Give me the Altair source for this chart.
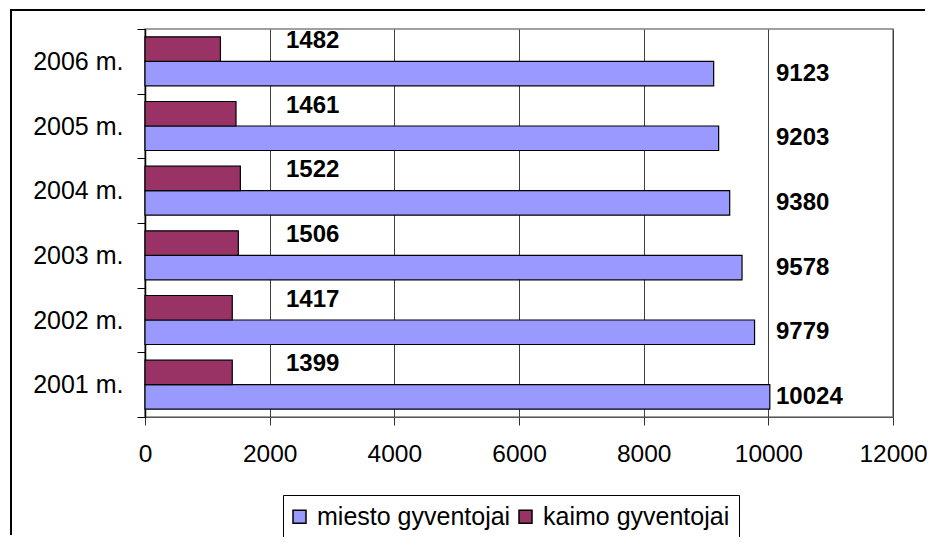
import altair as alt
import pandas as pd

years = ["2001 m.", "2002 m.", "2003 m.", "2004 m.", "2005 m.", "2006 m."]
miesto_values = [10024, 9779, 9578, 9380, 9203, 9123]
miesto_labels = ["10024", "9779", "9578", "9380", "9203", "9123"]
kaimo_values = [1400, 1400, 1497, 1530, 1460, 1210]
kaimo_labels = ["1399", "1417", "1506", "1522", "1461", "1482"]
series = ["miesto gyventojai", "kaimo gyventojai"]
series_colors = ["#9999FF", "#993366"]
x_ticks = [0, 2000, 4000, 6000, 8000, 10000, 12000]

rows = []
for i, y in enumerate(years):
    rows.append({"year": y, "series": series[0], "value": miesto_values[i], "label": miesto_labels[i]})
    rows.append({"year": y, "series": series[1], "value": kaimo_values[i], "label": kaimo_labels[i]})
df = pd.DataFrame(rows)

FONT = "Liberation Sans"

y_enc = alt.Y(
    "year:N",
    sort=years[::-1],
    scale=alt.Scale(paddingInner=0, paddingOuter=0),
    axis=alt.Axis(
        title=None, tickBand="extent", tickSize=8, tickColor="black",
        domainColor="black", domainWidth=1.5, labelFont=FONT, labelFontSize=25,
        labelColor="black", labelPadding=14, grid=False,
    ),
)
yoff_enc = alt.YOffset(
    "series:N",
    sort=[series[1], series[0]],
    scale=alt.Scale(paddingInner=0, paddingOuter=0.32),
)
x_enc = alt.X(
    "value:Q",
    scale=alt.Scale(domain=[0, 12000], nice=False),
    axis=alt.Axis(
        title=None, values=x_ticks, format="d", tickSize=8, tickColor="#333333",
        domainColor="#555555", labelFont=FONT, labelFontSize=24.5, labelColor="black",
        labelPadding=17, labelFlush=False, labelOverlap=False,
        grid=True, gridColor="#404040", gridWidth=1,
    ),
)

base = alt.Chart(df)

bars = base.mark_bar(stroke="black", strokeWidth=1.2).encode(
    x=x_enc,
    y=y_enc,
    yOffset=yoff_enc,
    color=alt.Color(
        "series:N",
        scale=alt.Scale(domain=series, range=series_colors),
        legend=alt.Legend(
            title=None, orient="none", legendX=138, legendY=466, direction="horizontal",
            strokeColor="black", padding=9, symbolType="square", symbolSize=169,
            symbolStrokeColor="black", symbolStrokeWidth=1.5, symbolOffset=-5,
            labelFont=FONT, labelFontSize=25, labelColor="black", labelOffset=5,
            columnPadding=5, fillColor="white", labelLimit=400,
        ),
    ),
)

miesto_text = base.transform_filter(alt.datum.series == series[0]).mark_text(
    align="left", baseline="middle", font=FONT, fontSize=24, fontWeight="bold", color="black"
).encode(
    x=alt.value(631),
    y=alt.Y("year:N", sort=years[::-1]),
    yOffset=alt.YOffset("series:N", sort=[series[1], series[0]]),
    text="label:N",
)

kaimo_text = base.transform_filter(alt.datum.series == series[1]).mark_text(
    align="left", baseline="middle", font=FONT, fontSize=24, fontWeight="bold", color="black", dy=-8
).encode(
    x=alt.value(141),
    y=alt.Y("year:N", sort=years[::-1]),
    yOffset=alt.YOffset("series:N", sort=[series[1], series[0]]),
    text="label:N",
)

one = alt.Data(values=[{"f": 1}])
frame_left = alt.Chart(one).mark_rule(color="black", strokeWidth=2).encode(
    x=alt.value(-134), y=alt.value(-20), y2=alt.value(506)
)
frame_top = alt.Chart(one).mark_rule(color="black", strokeWidth=2).encode(
    x=alt.value(-135), x2=alt.value(780), y=alt.value(-19)
)

chart = alt.layer(bars, miesto_text, kaimo_text, frame_left, frame_top).properties(
    width=748,
    height=388,
    autosize=alt.AutoSizeParams(type="none"),
    padding={"left": 137, "top": 21, "right": 34, "bottom": 120},
).configure_view(stroke="#808080", strokeWidth=1.5)

chart.save("out.html", embed_options={"renderer": "svg", "actions": False})
